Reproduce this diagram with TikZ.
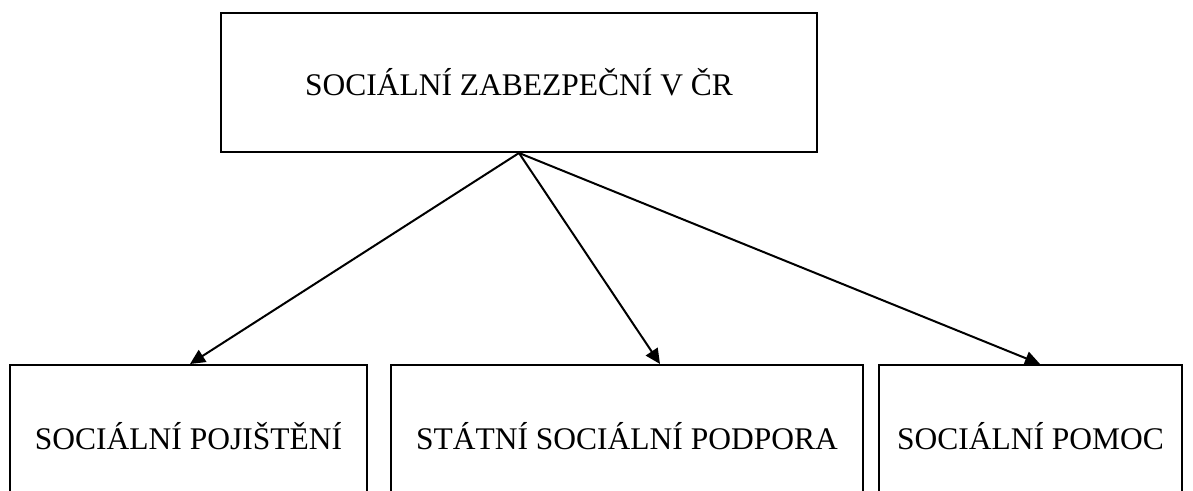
\documentclass[tikz,border=0pt]{standalone}
\usepackage{fontspec}
\setmainfont{Liberation Serif}
\usetikzlibrary{arrows.meta,positioning}
\tikzset{every node/.append style={font=\fontsize{31.5bp}{38bp}\selectfont}}
\tikzset{box/.style={draw, line width=2bp, inner sep=0pt, align=center}}
\tikzset{arr/.style={line width=2bp, -{Triangle[length=15bp,width=14bp]}}}

\begin{document}
\begin{tikzpicture}[x=1bp,y=-1bp]
  \useasboundingbox (0,0) rectangle (1193,491);
  \node[box, minimum width=596bp, minimum height=139bp] (szcr) at (519,82.5) {SOCIÁLNÍ ZABEZPEČNÍ V ČR};
  \node[box, minimum width=357bp, minimum height=142bp] (sp) at (188.5,436) {SOCIÁLNÍ POJIŠTĚNÍ};
  \node[box, minimum width=472bp, minimum height=142bp] (ssp) at (627,436) {STÁTNÍ SOCIÁLNÍ PODPORA};
  \node[box, minimum width=303bp, minimum height=142bp] (sm) at (1030.5,436) {SOCIÁLNÍ POMOC};
  \draw[arr] (szcr.south) -- ([xshift=1.5bp]sp.north);
  \draw[arr] (szcr.south) -- ([xshift=33bp]ssp.north);
  \draw[arr] (szcr.south) -- ([xshift=9.5bp]sm.north);
\end{tikzpicture}
\end{document}
